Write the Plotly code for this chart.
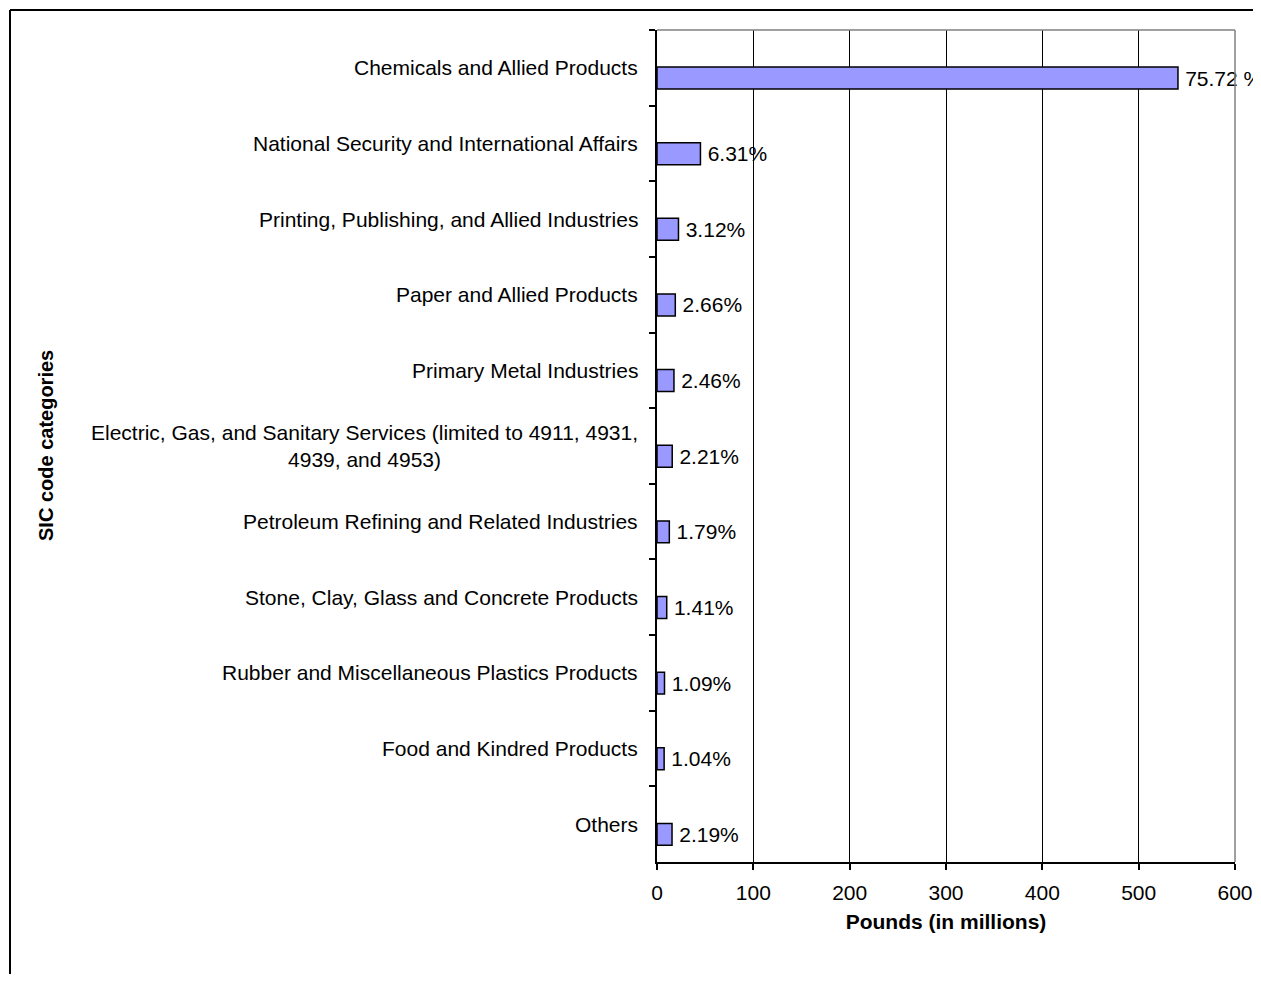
import plotly.graph_objects as go

categories = [
    "Chemicals and Allied Products",
    "National Security and International Affairs",
    "Printing, Publishing, and Allied Industries",
    "Paper and Allied Products",
    "Primary Metal Industries",
    "Electric, Gas, and Sanitary Services (limited to 4911, 4931,<br>4939, and 4953)",
    "Petroleum Refining and Related Industries",
    "Stone, Clay, Glass and Concrete Products",
    "Rubber and Miscellaneous Plastics Products",
    "Food and Kindred Products",
    "Others",
]
pounds_millions = [540.8, 45.1, 22.3, 19.0, 17.6, 15.8, 12.8, 10.1, 7.8, 7.4, 15.6]
percent_labels = ["75.72 %", "6.31%", "3.12%", "2.66%", "2.46%", "2.21%",
                  "1.79%", "1.41%", "1.09%", "1.04%", "2.19%"]
x_ticks = [0, 100, 200, 300, 400, 500, 600]

FONT = "Arial, Liberation Sans, sans-serif"
OFF = 8  # default page body margin
PAGE_W, PAGE_H = 1261, 982
W, H = PAGE_W - OFF, PAGE_H - 2 * OFF
PLOT_L, PLOT_R, PLOT_T, PLOT_B = 657, 1235, 30, 862  # page pixel coords
L, R = PLOT_L - OFF, (OFF + W) - PLOT_R
T, B = PLOT_T - OFF, (OFF + H) - PLOT_B
pw, ph = W - L - R, H - T - B

def px_to_paper_x(px):
    return (px - OFF - L) / pw

def px_to_paper_y(py):
    return (H - B - (py - OFF)) / ph

fig = go.Figure()
fig.add_trace(go.Bar(
    y=categories,
    x=pounds_millions,
    orientation="h",
    offset=-0.01,
    width=0.29,
    marker=dict(color="#9999FF", line=dict(color="black", width=1.5)),
    text=percent_labels,
    texttemplate="\u2009%{text}",
    textposition="outside",
    constraintext="none",
    cliponaxis=False,
    textfont=dict(family=FONT, size=21, color="black"),
    hoverinfo="skip",
))

annotations = []
for c in categories:
    annotations.append(dict(
        xref="paper", yref="y", x=0, y=c, xshift=-17,
        xanchor="right", yanchor="middle", align="center",
        text=c, showarrow=False,
        font=dict(family=FONT, size=21, color="black"),
    ))
annotations.append(dict(
    xref="paper", yref="paper", x=px_to_paper_x(46), y=0.5,
    xanchor="center", yanchor="middle", textangle=-90,
    text="<b>SIC code categories</b>", showarrow=False,
    font=dict(family=FONT, size=20, color="black"),
))

shapes = [
    # outer page border (left and top)
    dict(type="line", xref="paper", yref="paper",
         x0=px_to_paper_x(10), x1=px_to_paper_x(10),
         y0=px_to_paper_y(1040), y1=px_to_paper_y(10),
         line=dict(color="black", width=2)),
    dict(type="line", xref="paper", yref="paper",
         x0=px_to_paper_x(10), x1=px_to_paper_x(1300),
         y0=px_to_paper_y(10), y1=px_to_paper_y(10),
         line=dict(color="black", width=2)),
    # plot frame top and right (gray)
    dict(type="line", xref="paper", yref="paper", x0=0, x1=1, y0=1, y1=1,
         line=dict(color="#808080", width=1.5)),
    dict(type="line", xref="paper", yref="paper", x0=1, x1=1, y0=0, y1=1,
         line=dict(color="#808080", width=1.5)),
]

fig.update_layout(
    width=W, height=H,
    margin=dict(l=L, r=R, t=T, b=B, pad=0, autoexpand=False),
    paper_bgcolor="white", plot_bgcolor="white",
    showlegend=False,
    font=dict(family=FONT, size=21, color="black"),
    annotations=annotations,
    shapes=shapes,
    xaxis=dict(
        range=[0, 600], tickvals=x_ticks, ticktext=[str(v) for v in x_ticks],
        automargin=False,
        showgrid=True, gridcolor="black", gridwidth=1,
        showline=True, linecolor="black", linewidth=2,
        ticks="outside", ticklen=6, tickwidth=2, tickcolor="black",
        ticklabelstandoff=5,
        zeroline=False,
        tickfont=dict(family=FONT, size=21, color="black"),
        title=dict(text="<b>Pounds (in millions)</b>", standoff=11,
                   font=dict(family=FONT, size=21, color="black")),
    ),
    yaxis=dict(
        type="category", autorange="reversed",
        categoryorder="array", categoryarray=categories,
        automargin=False,
        showticklabels=False, showgrid=False,
        showline=True, linecolor="black", linewidth=2,
        ticks="outside", ticklen=6, tickwidth=2, tickcolor="black",
        tickson="boundaries",
        zeroline=False,
    ),
)

fig.write_html("out.html")
